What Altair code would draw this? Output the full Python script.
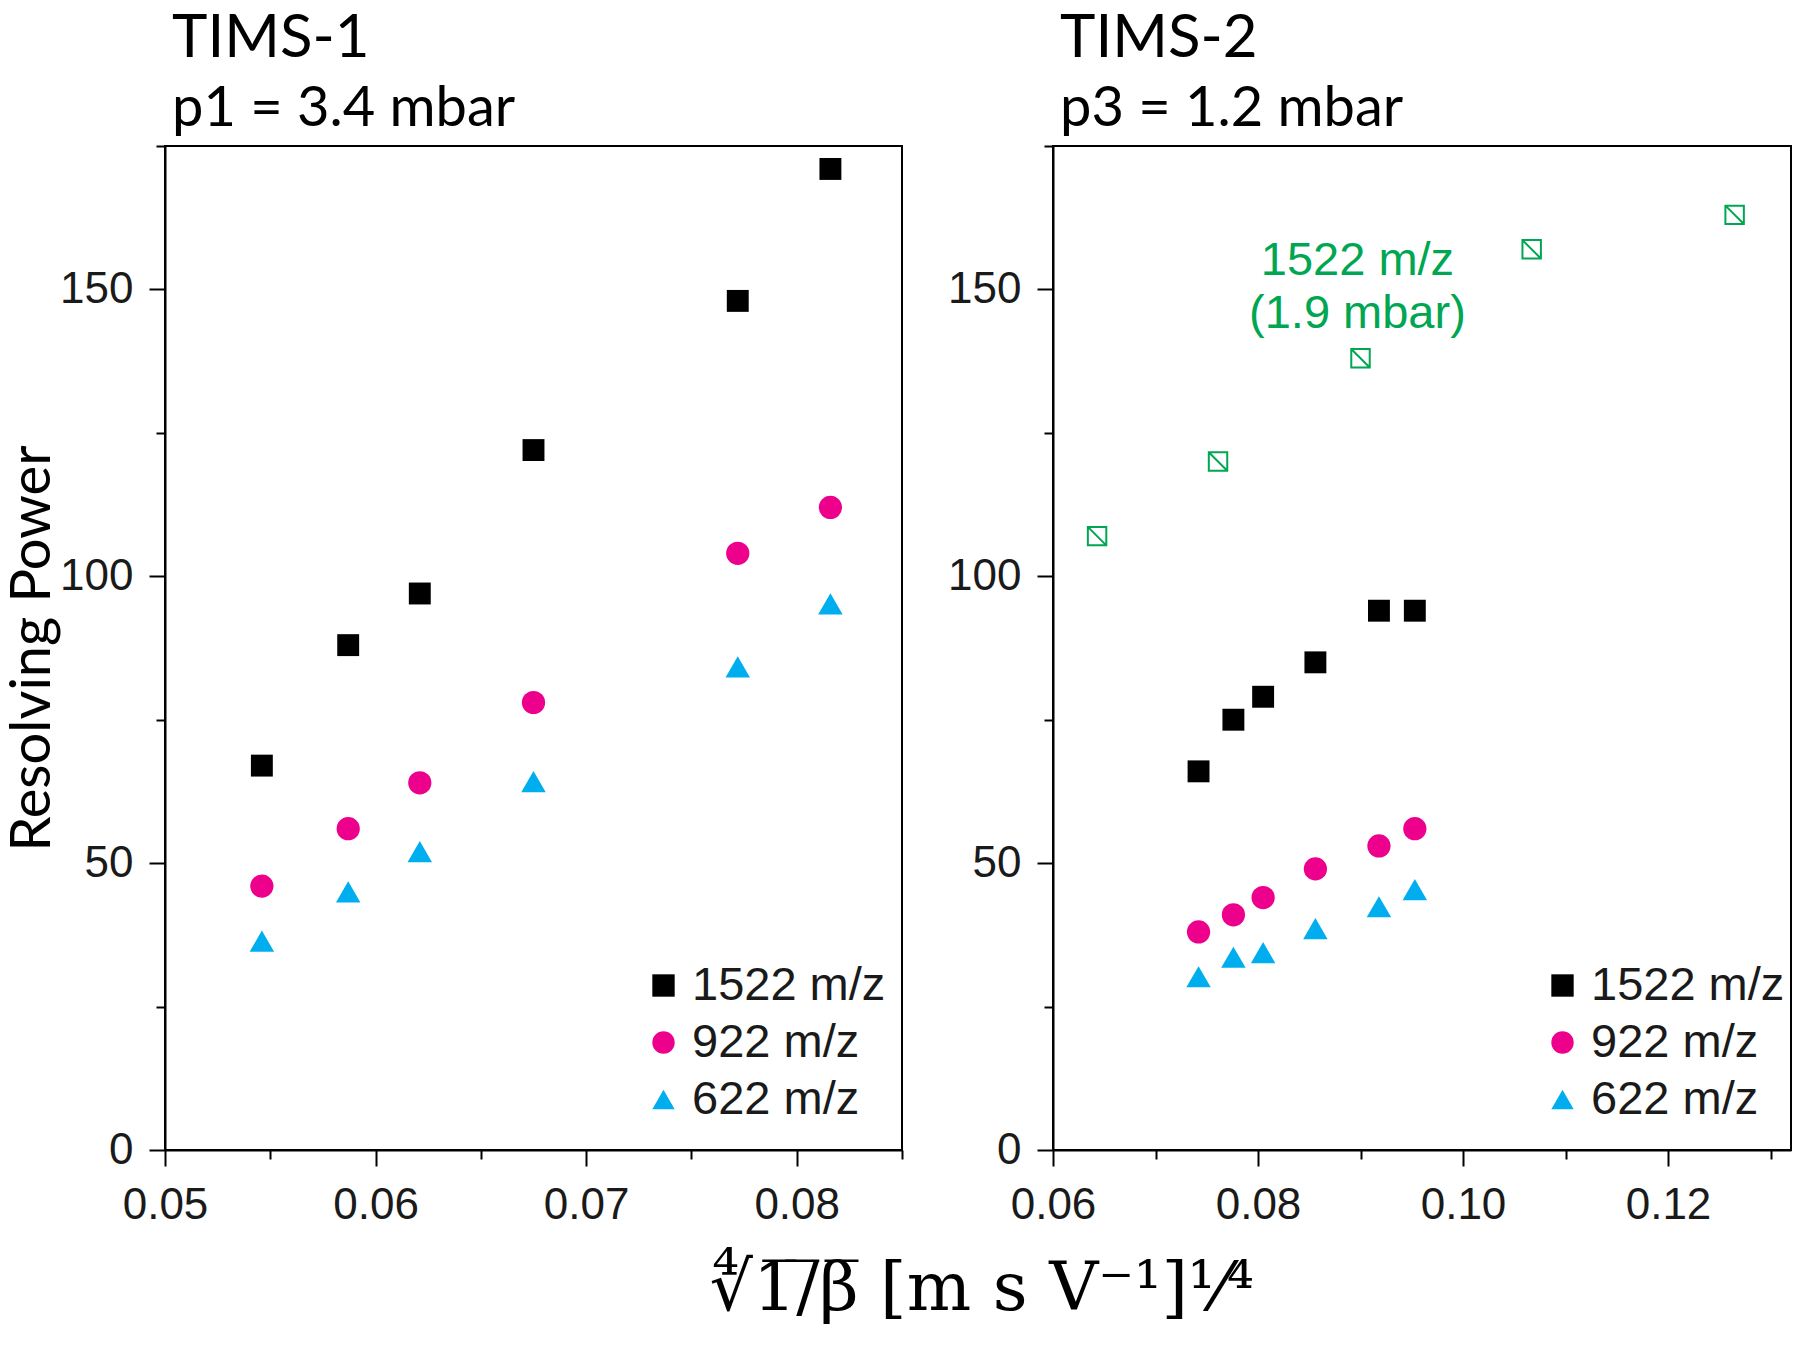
import altair as alt
import pandas as pd

# ---- data ----
ions = ["1522 m/z", "922 m/z", "622 m/z"]
ion_colors = ["#000000", "#EC008C", "#00AEEF"]
ion_shapes = ["square", "circle", "triangle-up"]
ion_sizes = [480, 600, 850]

tims1_x = [0.0546, 0.0587, 0.0621, 0.0675, 0.0772, 0.0816]
tims1_1522 = [67, 88, 97, 122, 148, 171]
tims1_922 = [46, 56, 64, 78, 104, 112]
tims1_622 = [36.4, 45, 52, 64.2, 84.2, 95.2]

tims2_x = [0.0742, 0.0776, 0.0805, 0.0856, 0.0918, 0.0953]
tims2_1522 = [66, 75, 79, 85, 94, 94]
tims2_922 = [38, 41, 44, 49, 53, 56]
tims2_622 = [30.2, 33.6, 34.4, 38.6, 42.4, 45.4]

green_x = [0.0643, 0.0761, 0.0900, 0.1067, 0.1265]
green_y = [107, 120, 138, 157, 163]
green_label = ["1522 m/z", "(1.9 mbar)"]
green_label_x = [0.0897, 0.0897]
green_label_y = [155, 145.8]

tims1_ticks = [0.05, 0.055, 0.06, 0.065, 0.07, 0.075, 0.08, 0.085]
tims2_ticks = [0.06, 0.07, 0.08, 0.09, 0.10, 0.11, 0.12, 0.13]
y_ticks = [0, 25, 50, 75, 100, 125, 150, 175]

GREEN = "#00A651"
LABEL_FONT = "Liberation Sans"
TEXT_COLOR = "#1a1a1a"
W1, W2, H = 737, 738, 1004
LEG_W = 244


def ion_table(xs, series):
    return pd.DataFrame(
        [{"x": x, "y": y, "ion": ion} for ion, ys in zip(ions, series) for x, y in zip(xs, ys)]
    )


def make_legend(lx, ly):
    return alt.Legend(
        title=None, orient="none", legendX=lx, legendY=ly, padding=0,
        labelFont=LABEL_FONT, labelFontSize=47, labelColor=TEXT_COLOR, labelLimit=0,
        symbolSize=500, symbolStrokeWidth=0, rowPadding=9, labelOffset=5,
    )


def y_axis(show_title):
    kw = dict(
        values=y_ticks,
        labelExpr="datum.value % 50 == 0 ? datum.label : ''",
        tickSize={"condition": {"test": "datum.value % 50 == 0", "value": 16}, "value": 9},
        labelPadding=16,
    )
    if show_title:
        kw.update(title="Resolving Power", titleFont="Lato", titleFontSize=56,
                  titleFontWeight="normal", titleColor="black", titlePadding=-2)
    else:
        kw.update(title=None)
    return alt.Axis(**kw)


def panel(df, xdom, xticks, major_test, show_ytitle, lx, ly):
    x_enc = alt.X(
        "x:Q",
        scale=alt.Scale(domain=xdom, nice=False, zero=False),
        axis=alt.Axis(
            title=None, values=xticks, format=".2f", labelFlush=False,
            labelExpr=f"({major_test}) ? datum.label : ''",
            tickSize={"condition": {"test": major_test, "value": 16}, "value": 9},
            labelPadding=17,
        ),
    )
    y_enc = alt.Y("y:Q", scale=alt.Scale(domain=[0, 175], nice=False), axis=y_axis(show_ytitle))
    pts = alt.Chart(df).mark_point(filled=True, opacity=1, strokeWidth=0).encode(
        x=x_enc,
        y=y_enc,
        color=alt.Color("ion:N", scale=alt.Scale(domain=ions, range=ion_colors), legend=make_legend(lx, ly)),
        shape=alt.Shape("ion:N", scale=alt.Scale(domain=ions, range=ion_shapes), legend=make_legend(lx, ly)),
        size=alt.Size("ion:N", scale=alt.Scale(domain=ions, range=ion_sizes), legend=None),
    )
    return pts


left_df = ion_table(tims1_x, [tims1_1522, tims1_922, tims1_622])
right_df = ion_table(tims2_x, [tims2_1522, tims2_922, tims2_622])

left_pts = panel(left_df, [0.05, 0.085], tims1_ticks, "abs(round(datum.value*1000) % 10) == 0",
                 True, W1 - 18 - LEG_W, 816)
right_pts = panel(right_df, [0.06, 0.132], tims2_ticks, "abs(round(datum.value*100) % 2) == 0",
                  False, W2 - 8 - LEG_W, 816)

green_df = pd.DataFrame({"x": green_x, "y": green_y})
green_pts = alt.Chart(green_df).mark_point(
    shape="M-1,-1H1V1H-1Z M-1,-1L1,1", filled=False, color=GREEN, strokeWidth=2, size=340, opacity=1
).encode(x=alt.X("x:Q"), y=alt.Y("y:Q"))

label_df = pd.DataFrame({"x": green_label_x, "y": green_label_y, "t": green_label})
green_text = alt.Chart(label_df).mark_text(
    font=LABEL_FONT, fontSize=47, color=GREEN, align="center", baseline="middle"
).encode(x=alt.X("x:Q"), y=alt.Y("y:Q"), text="t:N")


def title_params(t, s):
    return alt.TitleParams(
        t, subtitle=s, anchor="start", frame="group", font="Lato", fontSize=60, fontWeight="normal",
        color="black", subtitleFont="Lato", subtitleFontSize=56, subtitleColor="black",
        subtitlePadding=12, offset=7, dx=7,
    )


left = alt.layer(left_pts).properties(width=W1, height=H, title=title_params("TIMS-1", "p1 = 3.4 mbar"))
right = alt.layer(right_pts, green_pts, green_text).properties(
    width=W2, height=H, title=title_params("TIMS-2", "p3 = 1.2 mbar"))

xtitle = "\u221c1\u0305/\u0305\u03b2\u0305 [m s V\u207b\u00b9]\u00b9\u2044\u2074"

chart = (
    alt.hconcat(left, right, spacing=42)
    .resolve_legend(color="independent", shape="independent")
    .properties(
        title=alt.TitleParams(xtitle, orient="bottom", anchor="middle", font="DejaVu Serif",
                              fontSize=68, fontWeight="normal", color="black", offset=28, dx=84),
        padding={"left": -5, "top": 0, "right": 0, "bottom": 5},
    )
    .configure_view(stroke="black", strokeWidth=2)
    .configure_axis(
        grid=False, domainColor="black", domainWidth=2, tickColor="black", tickWidth=2,
        labelFont=LABEL_FONT, labelFontSize=44, labelColor=TEXT_COLOR,
    )
)

chart.save("out.html", embed_options={"renderer": "svg", "actions": False})
